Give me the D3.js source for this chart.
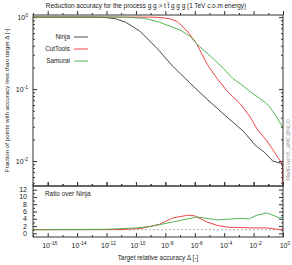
<!DOCTYPE html>
<html>
<head>
<meta charset="utf-8">
<style>
  body { margin: 0; background: #fff; }
  svg { font-family: 'Liberation Sans', Arial, sans-serif; }
  .frame { fill: none; stroke: #333; stroke-width: 1; }
  .axis path { display: none; }
  .axis line { stroke: #333; }
</style>
</head>
<body>
<svg width="292" height="265"></svg>
<script src="https://d3js.org/d3.v7.min.js"></script>
<script>
// accuracy target (x) and fraction of points (y)
const ninjaX = [1e-17, 1e-13, 8e-13, 4e-12, 2e-11, 2e-10, 3e-9, 3e-8, 5e-7, 7e-6, 2e-4, 2e-3, 1.3e-2, 6e-2, 0.2, 0.75, 0.95, 1];
const ninjaY = [1, 1, 0.99, 0.95, 0.85, 0.63, 0.36, 0.21, 0.12, 0.072, 0.039, 0.026, 0.0166, 0.013, 0.010, 0.0093, 0.009, 0.004];

const cutX = [1e-17, 1e-9, 4e-9, 2e-8, 7e-8, 3.5e-7, 1.4e-6, 7e-6, 3.3e-5, 1.9e-4, 1.2e-3, 5.8e-3, 1.7e-2, 8e-2, 0.2, 0.47, 0.87, 0.95, 1];
const cutY = [1, 1, 0.99, 0.95, 0.86, 0.62, 0.42, 0.22, 0.14, 0.09, 0.063, 0.041, 0.028, 0.019, 0.0145, 0.011, 0.0093, 0.009, 0.004];

const samX = [1e-17, 1e-11, 4e-11, 4e-10, 4e-9, 1e-7, 5e-7, 1.4e-6, 1.1e-5, 8.5e-5, 4e-4, 2e-3, 5.8e-3, 1.7e-2, 6e-2, 0.13, 0.34, 0.74, 1];
const samY = [1, 1, 0.99, 0.96, 0.85, 0.66, 0.54, 0.42, 0.29, 0.195, 0.14, 0.11, 0.092, 0.079, 0.065, 0.056, 0.042, 0.032, 0.028];

// ratio over Ninja
const ratioCutX = [1e-17, 1e-11, 2e-10, 4e-9, 3e-8, 3.5e-7, 1e-6, 7e-6, 3.3e-5, 1.6e-4, 1e-3, 1e-2, 8e-2, 0.47, 0.9, 1];
const ratioCutY = [1, 1.05, 1.3, 2.5, 4.2, 5.0, 4.8, 3.1, 2.2, 1.7, 1.6, 1.5, 1.5, 1.1, 1.0, 1.6];
const ratioSamX = [1e-17, 1e-12, 1e-10, 1e-9, 3e-8, 1.4e-6, 1e-5, 3.3e-5, 2e-4, 1.2e-3, 5e-3, 1.7e-2, 8e-2, 0.2, 0.6, 1];
const ratioSamY = [1, 1.1, 1.5, 1.9, 3.1, 4.5, 4.0, 3.7, 3.9, 4.1, 4.0, 5.0, 5.6, 5.0, 4.2, 4.5];

const seriesNames = ["Ninja", "CutTools", "Samurai"];
const seriesColors = ["#333333", "#ee3333", "#44aa44"];
const xMajor = [1e-16, 1e-14, 1e-12, 1e-10, 1e-8, 1e-6, 1e-4, 1e-2, 1];
const xMinor = [1e-17, 1e-15, 1e-13, 1e-11, 1e-9, 1e-7, 1e-5, 1e-3, 1e-1];
const yTopMajor = [1, 0.1, 0.01];
const ratioTicks = [0, 2, 4, 6, 8, 10, 12];

const L = 33, R = 283, T = 15, M = 186, B = 237;
const svg = d3.select("svg");

let x = d3.scaleLog().domain([1e-17, 1]).range([L, R]);
let yTop = d3.scaleLog().domain([0.0045, 1.07]).range([M, T]);
let yRat = d3.scaleLinear().domain([-1, 13]).range([B, M]);

svg.append("clipPath").attr("id", "cTop").append("rect")
  .attr("x", L).attr("y", T).attr("width", R - L).attr("height", M - T);
svg.append("clipPath").attr("id", "cRat").append("rect")
  .attr("x", L).attr("y", M).attr("width", R - L).attr("height", B - M);

// title
svg.append("text").attr("x", 146).attr("y", 8).attr("text-anchor", "middle")
  .style("font-size", "6.4px").style("fill", "#222")
  .text("Reduction accuracy for the process g g > t t\u0304 g g g (1 TeV c.o.m energy)");

// ticks, inward on all sides
function xTicks(yPos, dir) {
  svg.append("g").attr("class", "axis").attr("transform", `translate(0,${yPos})`)
    .call((dir > 0 ? d3.axisBottom(x) : d3.axisTop(x)).tickValues(xMajor).tickSize(-4 * dir).tickFormat(""));
  svg.append("g").attr("class", "axis").attr("transform", `translate(0,${yPos})`)
    .call((dir > 0 ? d3.axisBottom(x) : d3.axisTop(x)).tickValues(xMinor).tickSize(-2 * dir).tickFormat(""));
}
xTicks(T, -1); xTicks(M, 1); xTicks(M, -1); xTicks(B, 1);

let minorY = [];
[1, 0.1, 0.01].forEach(p => d3.range(2, 10).forEach(k => { if (p * k / 10 >= 0.0045) minorY.push(p * k / 10); }));
[[L, d3.axisLeft, -1], [R, d3.axisRight, 1]].forEach(([xp, ax, s]) => {
  svg.append("g").attr("class", "axis").attr("transform", `translate(${xp},0)`)
    .call(ax(yTop).tickValues(yTopMajor).tickSize(4 * s).tickFormat(""));
  svg.append("g").attr("class", "axis").attr("transform", `translate(${xp},0)`)
    .call(ax(yTop).tickValues(minorY).tickSize(2 * s).tickFormat(""));
  svg.append("g").attr("class", "axis").attr("transform", `translate(${xp},0)`)
    .call(ax(yRat).tickValues(ratioTicks).tickSize(4 * s).tickFormat(""));
  svg.append("g").attr("class", "axis").attr("transform", `translate(${xp},0)`)
    .call(ax(yRat).tickValues(d3.range(1, 13, 2)).tickSize(2 * s).tickFormat(""));
});
svg.selectAll(".axis line").attr("transform", function () {
  return null;
});
// axisLeft with positive size draws outward; flip so ticks point inward
svg.selectAll(".axis").filter(function () {
  return d3.select(this).attr("transform").startsWith(`translate(${L},0)`);
}).selectAll("line").attr("x2", function () { return Math.abs(+d3.select(this).attr("x2")); });
svg.selectAll(".axis").filter(function () {
  return d3.select(this).attr("transform").startsWith(`translate(${R},0)`);
}).selectAll("line").attr("x2", function () { return -Math.abs(+d3.select(this).attr("x2")); });

// y tick labels on top panel
yTopMajor.forEach(v => {
  let t = svg.append("text").attr("x", 28).attr("y", yTop(v) + 2.5).attr("text-anchor", "end")
    .style("font-size", "7px").style("fill", "#222");
  t.append("tspan").text("10");
  t.append("tspan").attr("dy", -3).style("font-size", "5px").text(Math.round(Math.log10(v)));
});
// ratio tick labels
ratioTicks.forEach(v => {
  svg.append("text").attr("x", 27).attr("y", yRat(v) + 2.5).attr("text-anchor", "end")
    .style("font-size", "7px").style("fill", "#222").text(v);
});
// x tick labels
xMajor.forEach(v => {
  let t = svg.append("text").attr("x", x(v) + 2).attr("y", 248).attr("text-anchor", "middle")
    .style("font-size", "7px").style("fill", "#222");
  t.append("tspan").text("10");
  t.append("tspan").attr("dy", -3).style("font-size", "5px").text(Math.round(Math.log10(v)));
});

// axis labels
svg.append("text").attr("x", 158).attr("y", 260).attr("text-anchor", "middle")
  .style("font-size", "6.4px").style("fill", "#222").text("Target relative accuracy \u0394 [-]");
svg.append("text").attr("transform", `translate(9,${(T + M) / 2}) rotate(-90)`).attr("text-anchor", "middle")
  .style("font-size", "6.2px").style("fill", "#222")
  .text("Fraction of points with accuracy less than target \u0394 [-]");
svg.append("text").attr("transform", `translate(290,150) rotate(-90)`).attr("text-anchor", "middle")
  .style("font-size", "5.6px").style("fill", "#999").text("MadGraph5_aMC@NLO");

// curves
let lineTop = d3.line().x(d => x(d[0])).y(d => yTop(d[1]));
let lineRat = d3.line().x(d => x(d[0])).y(d => yRat(d[1]));
const topData = [d3.zip(ninjaX, ninjaY), d3.zip(cutX, cutY), d3.zip(samX, samY)];
const ratData = [d3.zip(ratioCutX, ratioCutY), d3.zip(ratioSamX, ratioSamY)];

svg.append("line").attr("x1", L).attr("x2", R).attr("y1", yRat(1)).attr("y2", yRat(1))
  .style("stroke", "#aaa").style("stroke-width", 1).style("stroke-dasharray", "2,2");

svg.append("g").attr("clip-path", "url(#cTop)").selectAll("path").data(topData).join("path")
  .attr("d", lineTop).style("fill", "none").style("stroke-width", 0.9)
  .style("stroke", (d, i) => seriesColors[i]);
svg.append("g").attr("clip-path", "url(#cRat)").selectAll("path").data(ratData).join("path")
  .attr("d", lineRat).style("fill", "none").style("stroke-width", 0.9)
  .style("stroke", (d, i) => seriesColors[i + 1]);

// legend
seriesNames.forEach((n, i) => {
  let yy = 37 + i * 12;
  svg.append("text").attr("x", 70).attr("y", yy + 2.2).attr("text-anchor", "end")
    .style("font-size", "6.4px").style("fill", "#222").text(n);
  svg.append("line").attr("x1", 74).attr("x2", 88).attr("y1", yy).attr("y2", yy)
    .style("stroke", seriesColors[i]).style("stroke-width", 0.9);
});
svg.append("text").attr("x", 45).attr("y", 196).style("font-size", "6.4px").style("fill", "#222")
  .text("Ratio over Ninja");

// frames
svg.append("rect").attr("class", "frame").attr("x", L).attr("y", T).attr("width", R - L).attr("height", M - T);
svg.append("rect").attr("class", "frame").attr("x", L).attr("y", M).attr("width", R - L).attr("height", B - M);
</script>
</body>
</html>
